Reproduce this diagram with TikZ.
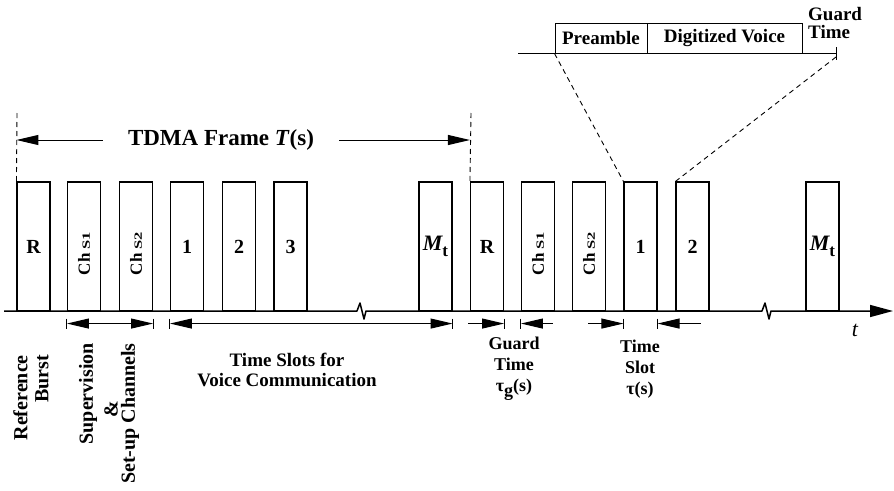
\documentclass[tikz,border=0pt]{standalone}
\usepackage{fontspec}
\usepackage{graphicx}
\setmainfont{Liberation Serif}
\usetikzlibrary{arrows.meta}
\newcommand\chlab[1]{\rotatebox{90}{\fontsize{17}{17}\selectfont Ch\kern4pt\scalebox{1.5}[1]{\fontsize{11}{11}\selectfont S#1}\kern14pt}}
\newcommand\mtlab{{\itshape\fontsize{22}{22}\selectfont M}\raisebox{-6pt}{\fontsize{17}{17}\selectfont t}}
\begin{document}
\begin{tikzpicture}[x=1pt,y=-1pt,
  slot/.style={draw,line width=1.1pt,minimum width=33pt,minimum height=129pt,inner sep=0pt,font=\bfseries\fontsize{20}{22}\selectfont},
  lbl/.style={font=\bfseries\fontsize{19}{20}\selectfont,inner sep=0pt},
  rlbl/.style={font=\bfseries\fontsize{20}{21}\selectfont,inner sep=0pt,rotate=90},
  inbox/.style={draw,line width=1pt,minimum height=30pt,inner sep=0pt,font=\bfseries\fontsize{19}{19}\selectfont},
  dimline/.style={line width=1pt},
  tickln/.style={line width=1pt},
  dashln/.style={line width=0.9pt,dash pattern=on 5pt off 4pt},
  bigtri/.tip={Triangle[length=22pt,width=10pt]}
]
\useasboundingbox (0,0) rectangle (894,490);

% slots, first frame
\node[slot] (r1)  at (33.5,246.5) {R};
\node[slot] (s1a) at (84,246.5)   {\chlab{1}};
\node[slot] (s2a) at (136,246.5)  {\chlab{2}};
\node[slot] (v1)  at (187,246.5)  {1};
\node[slot] (v2)  at (239,246.5)  {2};
\node[slot] (v3)  at (290.5,246.5){3};
\node[slot] (mt1) at (435.5,246.5){\mtlab};
% second frame
\node[slot] (r2)  at (487,246.5)  {R};
\node[slot] (s1b) at (538,246.5)  {\chlab{1}};
\node[slot] (s2b) at (589,246.5)  {\chlab{2}};
\node[slot] (v1b) at (640.5,246.5){1};
\node[slot] (v2b) at (692.5,246.5){2};
\node[slot] (mt2) at (822.5,246.5){\mtlab};

% time axis
\coordinate (ax0) at (4,311);
\coordinate (ax1) at (893,311);
\draw[line width=1.5pt,line join=round,-{Triangle[length=23pt,width=12pt]}]
  (ax0) -- (357,311) -- (360,303) -- (364,319) -- (366,311)
  -- (762,311) -- (765,303) -- (769,319) -- (771,311) -- (ax1);
\node[font=\itshape\fontsize{22}{22}\selectfont,inner sep=0pt] (t) at (855,330) {t};

% TDMA frame
\coordinate (f0) at (17,113);
\coordinate (f1) at (471,113);
\draw[dashln] (f0) -- (r1.north west);
\draw[dashln] (f1) -- (r2.north west);
\node[font=\bfseries\fontsize{23}{23}\selectfont,inner sep=0pt] (tdma) at (221,140) {TDMA Frame \textit{T}(s)};
\draw[dimline,-{bigtri}] ([xshift=-25pt]tdma.west) -- (tdma.west -| r1.north west);
\draw[dimline,-{bigtri}] ([xshift=25pt]tdma.east) -- (tdma.east -| r2.north west);

% dimension arrows below axis
\draw[dimline,{bigtri}-{bigtri}] ([yshift=-12pt]s1a.south west) -- ([yshift=-12pt]s2a.south east);
\draw[dimline,{bigtri}-{bigtri}] ([yshift=-12pt]v1.south west) -- ([yshift=-12pt]mt1.south east);
\draw[dimline,-{bigtri}] ([xshift=-36pt,yshift=-12pt]r2.south east) -- ([yshift=-12pt]r2.south east);
\draw[dimline,-{bigtri}] ([xshift=32pt,yshift=-12pt]s1b.south west) -- ([yshift=-12pt]s1b.south west);
\draw[dimline,-{bigtri}] ([xshift=-35pt,yshift=-12pt]v1b.south west) -- ([yshift=-12pt]v1b.south west);
\draw[dimline,-{bigtri}] ([xshift=43pt,yshift=-12pt]v1b.south east) -- ([yshift=-12pt]v1b.south east);
\foreach \a in {s1a.south west,s2a.south east,v1.south west,mt1.south east,r2.south east,s1b.south west,v1b.south west,v1b.south east}
  \draw[tickln] ([yshift=-7pt]\a) -- ([yshift=-17pt]\a);

% labels below
\node[rlbl,anchor=north east,align=right] (refb) at (13,355) {Reference\\Burst};
\node[rlbl,anchor=east] (sup) at (88,343) {Supervision};
\node[rlbl] (amp) at (111,409) {\&};
\node[rlbl,anchor=east] (setup) at (130,343) {Set-up Channels};
\node[lbl,align=center] (tsv) at (287,370) {Time Slots for\\Voice Communication};
\node[lbl,align=center,font=\bfseries\fontsize{18}{21}\selectfont] (gtl) at (514,369) {Guard\\Time\\τ\raisebox{-5pt}{g}(s)};
\node[lbl,align=center,font=\bfseries\fontsize{18}{21}\selectfont] (tsl) at (640,369) {Time\\Slot\\τ(s)};

% inset of one time slot
\coordinate (il) at (518,53);
\coordinate (gt) at (836,53);
\draw[line width=1pt] (il) -- (gt);
\draw[tickln] ([yshift=6pt]gt) -- ([yshift=-7pt]gt);
\node[inbox,minimum width=92pt] (pre) at (601,38) {Preamble};
\node[inbox,minimum width=155pt] (dv) at (724.5,38) {Digitized Voice};
\node[lbl,align=left,anchor=north west,font=\bfseries\fontsize{19}{18}\selectfont] (gtt) at (808,7) {Guard\\Time};
\draw[dashln] (pre.south west) -- (v1b.north west);
\draw[dashln] ([yshift=-4pt]gt) -- (v2b.north west);
\end{tikzpicture}
\end{document}
